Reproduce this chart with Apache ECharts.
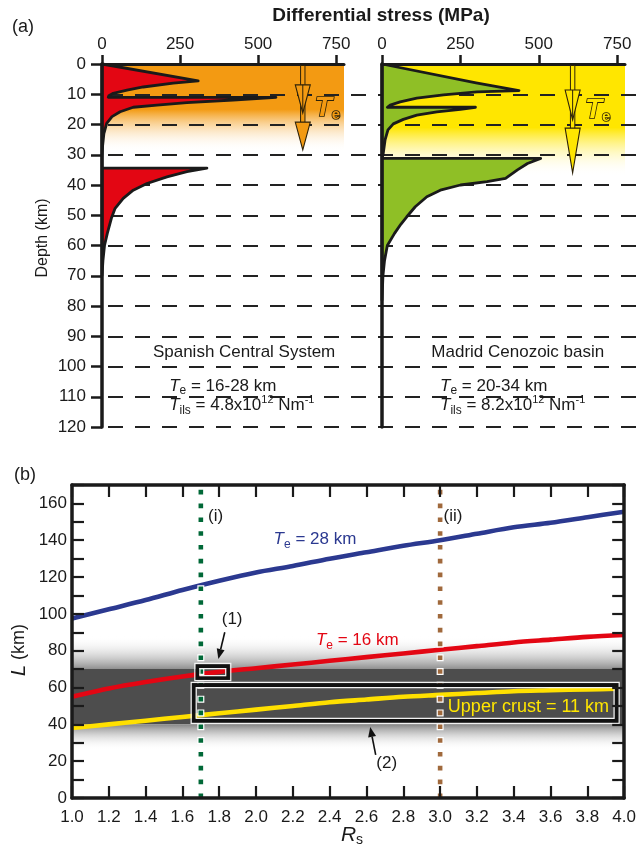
<!DOCTYPE html>
<html><head><meta charset="utf-8">
<script src="https://cdn.jsdelivr.net/npm/echarts@6/dist/echarts.min.js"></script>
<style>html,body{margin:0;padding:0;background:#fff}#c{width:639px;height:854px}</style>
</head><body><div id="c"></div><script>
// ---------- DATA ----------
const stressTicks = [0, 250, 500, 750];
// strength envelope outlines [stress MPa, depth km]
const scsProfile = [[0,0],[308,5.6],[228,6.3],[132,7.6],[80,8.6],[36,9.7],[22,10.5],[20,11],[557,11],[420,11.9],[272,12.8],[176,13.6],[100,14.3],[58,15.8],[32,17.4],[15,19.6],[6,23],[2,27],[0,31],[0,34.4],[336,34.4],[272,35.6],[208,37.3],[144,39.5],[100,41.7],[68,44.4],[42,47.7],[30,51],[17,56],[8,60],[3,65],[0,70]];
const mcbProfile = [[0,0],[300,6.2],[437,8.8],[303,9.2],[196,10.2],[111,11.3],[58,12.5],[26,13.6],[17,14.3],[298,14.3],[250,15],[175,15.8],[111,16.9],[68,18.3],[36,19.8],[19,21.8],[10,25],[4,29.5],[0,31.2],[506,31.2],[464,32.9],[432,35],[394,37.8],[335,38.9],[250,40],[186,41.7],[143,43.9],[106,47.2],[79,50.5],[60,53],[40,56],[17,60],[8,65],[3,70],[0,78]];
// Te arrows: [stress, head1 top, tip1, head2 top, tip2]
const teArrowSCS = [643, 6.9, 16.2, 19.2, 28.4];
const teArrowMCB = [608, 8.6, 18.5, 21.2, 36];
// coloured backgrounds: [stress max, solid until depth, fade end depth]
const orangeBg = [775, 15, 29];
const yellowBg = [775, 21, 37];

// panel (b)
const rsValues = [1.0,1.2,1.4,1.6,1.8,2.0,2.2,2.4,2.6,2.8,3.0,3.2,3.4,3.6,3.8,4.0];
const lTe28 = [97.5,102.5,107.5,113,118,122.5,126,130,133.5,137,140,143.5,147,149.5,152.5,155.5];
const lTe16 = [55,59.5,63,66,68.5,70.5,72.5,74.5,76.5,78.5,80.5,82.5,84.5,86,87.5,88.5];
const rsUpper = [1.0,1.2,1.4,1.6,1.8,2.0,2.2,2.4,2.6,2.8,3.0,3.2,3.4,3.6,3.8,3.96];
const lUpper = [38,40,42,44,46,48,50,52,53.5,55,56,57,58,58.5,59,59.3];
const rsMarkers = [1.7, 3.0];
const box1 = [1.67, 1.86, 64, 72.8];
const box2 = [1.65, 3.97, 40.8, 62.5];
const grayCore = [40, 70];
const grayFade = [26, 88];
const arrow1 = [1.83, 90, 1.795, 75.5];
const arrow2 = [2.65, 23.4, 2.62, 38.6];

// ---------- STYLE HELPERS ----------
const FF = "'Liberation Sans', Arial, Helvetica, sans-serif";
const INK = '#1a1a1a';
function richSet(size) {
  return {
    n: {fontSize: size, fontFamily: FF, lineHeight: size + 5},
    i: {fontSize: size, fontFamily: FF, fontStyle: 'italic', lineHeight: size + 5},
    s: {fontSize: Math.round(size * 0.72), fontFamily: FF, verticalAlign: 'bottom', lineHeight: Math.round(size * 0.72) + 2},
    p: {fontSize: Math.round(size * 0.62), fontFamily: FF, verticalAlign: 'top', lineHeight: Math.round(size * 0.62)}
  };
}
function textItem(pt, text, opts) {
  const size = opts.size || 17;
  return {type: 'text', x: pt[0], y: pt[1], style: Object.assign({
    text: text, rich: richSet(size), fill: opts.color || INK, fontSize: size, fontFamily: FF,
    align: opts.align || 'center', verticalAlign: 'middle'
  }, opts.extra || {})};
}
function labelsSeries(xi, yi, items, z) {
  return {type: 'custom', xAxisIndex: xi, yAxisIndex: yi, z: z || 8, silent: true, clip: false,
    data: [[0, 0]],
    renderItem: function (params, api) {
      return {type: 'group', children: items.map(function (it) {
        return textItem(api.coord([it[0], it[1]]), it[2], it[3] || {});
      })};
    }};
}
function polySeries(xi, yi, points, fill) {
  return {type: 'custom', xAxisIndex: xi, yAxisIndex: yi, z: 3, silent: true, clip: false,
    data: [[0, 0]],
    renderItem: function (params, api) {
      return {type: 'polygon', shape: {points: points.map(function (p) { return api.coord(p); })},
        style: {fill: fill, stroke: INK, lineWidth: 2.8, lineJoin: 'round'}};
    }};
}
function bgSeries(xi, yi, bg, color) {
  return {type: 'custom', xAxisIndex: xi, yAxisIndex: yi, z: 0, silent: true, clip: false,
    data: [[0, 0]],
    renderItem: function (params, api) {
      const a = api.coord([0, 0]), b = api.coord([bg[0], bg[2]]);
      const solid = bg[1] / bg[2];
      return {type: 'rect', shape: {x: a[0], y: a[1], width: b[0] - a[0], height: b[1] - a[1]},
        style: {fill: new echarts.graphic.LinearGradient(0, 0, 0, 1, [
          {offset: 0, color: color}, {offset: solid, color: color},
          {offset: 1, color: 'rgba(255,255,255,0)'}])}};
    }};
}
function teSeries(xi, yi, arr, fill) {
  return {type: 'custom', xAxisIndex: xi, yAxisIndex: yi, z: 6, silent: true, clip: false,
    data: [[0, 0]],
    renderItem: function (params, api) {
      const p0 = api.coord([arr[0], 0]);
      const a1 = api.coord([arr[0], arr[1]]), b1 = api.coord([arr[0], arr[2]]);
      const a2 = api.coord([arr[0], arr[3]]), b2 = api.coord([arr[0], arr[4]]);
      const cx = p0[0], hw = 7.5, sw = 2.2, st = '#2e2208';
      return {type: 'group', children: [
        {type: 'rect', shape: {x: cx - sw, y: p0[1] + 1.5, width: 2 * sw, height: a2[1] - p0[1]}, style: {fill: fill, stroke: st, lineWidth: 1}},
        {type: 'polygon', shape: {points: [[cx - hw, a1[1]], [cx + hw, a1[1]], [cx, b1[1]]]}, style: {fill: fill, stroke: st, lineWidth: 1.1}},
        {type: 'line', shape: {x1: cx, y1: a1[1], x2: cx, y2: b1[1] - 2}, style: {stroke: st, lineWidth: 1}},
        {type: 'polygon', shape: {points: [[cx - hw, a2[1]], [cx + hw, a2[1]], [cx, b2[1]]]}, style: {fill: fill, stroke: st, lineWidth: 1.1}}
      ]};
    }};
}
function teLabel(xi, yi, pos, fill) {
  return {type: 'custom', xAxisIndex: xi, yAxisIndex: yi, z: 7, silent: true, clip: false,
    data: [[0, 0]],
    renderItem: function (params, api) {
      const p = api.coord(pos);
      return {type: 'text', x: p[0], y: p[1], style: {
        text: '{T|T}{e|e}', fill: fill, stroke: '#2e2208', lineWidth: 1.6,
        fontSize: 26, fontFamily: FF, align: 'center', verticalAlign: 'middle',
        rich: {T: {fontSize: 28, fontFamily: FF, fontStyle: 'italic', fontWeight: 'bold', lineHeight: 28},
               e: {fontSize: 15, fontFamily: FF, fontWeight: 'bold', verticalAlign: 'bottom', lineHeight: 15}}
      }};
    }};
}

// stress axes
function stressX(gi) {
  return {gridIndex: gi, type: 'value', position: 'top', min: 0, max: 775, z: 5,
    axisLine: {show: true, onZero: false, lineStyle: {color: INK, width: 3}},
    axisTick: {show: true, inside: false, length: 9, customValues: stressTicks, lineStyle: {color: INK, width: 2.5}},
    axisLabel: {show: true, customValues: stressTicks, margin: 11, fontSize: 17, fontFamily: FF, color: INK,
      formatter: function (v) { return stressTicks.indexOf(v) >= 0 ? String(v) : ''; }},
    splitLine: {show: false}};
}
function depthY(gi, labels) {
  return {gridIndex: gi, type: 'value', inverse: true, min: 0, max: 120, interval: 10, z: 5,
    axisLine: {show: true, onZero: false, lineStyle: {color: INK, width: 3.5}},
    axisTick: {show: labels, inside: false, length: 11, lineStyle: {color: INK, width: 2.5}},
    axisLabel: {show: labels, margin: 16, fontSize: 17, fontFamily: FF, color: INK},
    splitLine: {show: false}};
}

const chart = echarts.init(document.getElementById('c'), null, {renderer: 'canvas'});

const lineData = (xs, ys) => xs.map((x, i) => [x, ys[i]]);
const frameLine = {show: true, onZero: false, lineStyle: {color: INK, width: 3.5}};
const frameTick = {show: true, inside: true, length: 12, lineStyle: {color: INK, width: 2.2}};

function boxSeries(box) {
  return {type: 'custom', xAxisIndex: 3, yAxisIndex: 3, z: 7, silent: true, clip: false,
    data: [[0, 0]],
    renderItem: function (params, api) {
      const a = api.coord([box[0], box[3]]), b = api.coord([box[1], box[2]]);
      const x = a[0], y = a[1], w = b[0] - a[0], h = b[1] - a[1];
      return {type: 'group', children: [
        {type: 'rect', shape: {x: x - 0.5, y: y - 0.5, width: w + 1, height: h + 1}, style: {fill: null, stroke: '#f2f2f2', lineWidth: 1.2}},
        {type: 'rect', shape: {x: x + 2.2, y: y + 2.2, width: w - 4.4, height: h - 4.4}, style: {fill: null, stroke: '#111', lineWidth: 3.6}},
        {type: 'rect', shape: {x: x + 4.6, y: y + 4.6, width: w - 9.2, height: h - 9.2}, style: {fill: null, stroke: '#f2f2f2', lineWidth: 1.2}}
      ]};
    }};
}
function arrowSeries(arr) {
  return {type: 'custom', xAxisIndex: 3, yAxisIndex: 3, z: 8, silent: true, clip: false,
    data: [[0, 0]],
    renderItem: function (params, api) {
      const p0 = api.coord([arr[0], arr[1]]), p1 = api.coord([arr[2], arr[3]]);
      const dx = p1[0] - p0[0], dy = p1[1] - p0[1], len = Math.sqrt(dx * dx + dy * dy);
      const ux = dx / len, uy = dy / len, hl = 10, hw = 4;
      const bx = p1[0] - ux * hl, by = p1[1] - uy * hl;
      return {type: 'group', children: [
        {type: 'line', shape: {x1: p0[0], y1: p0[1], x2: bx, y2: by}, style: {stroke: '#111', lineWidth: 1.6}},
        {type: 'polygon', shape: {points: [[p1[0], p1[1]], [bx - uy * hw, by + ux * hw], [bx + uy * hw, by - ux * hw]]}, style: {fill: '#111'}}
      ]};
    }};
}
const bandSeries = {type: 'custom', xAxisIndex: 3, yAxisIndex: 3, z: 1, silent: true, clip: false,
  data: [[0, 0]],
  renderItem: function (params, api) {
    const xl = api.coord([1, 0])[0], xr = api.coord([4, 0])[0];
    const yTop = api.coord([1, grayFade[1]])[1], yC1 = api.coord([1, grayCore[1]])[1];
    const yC0 = api.coord([1, grayCore[0]])[1], yBot = api.coord([1, grayFade[0]])[1];
    return {type: 'group', children: [
      {type: 'rect', shape: {x: xl, y: yTop, width: xr - xl, height: yC1 - yTop},
        style: {fill: new echarts.graphic.LinearGradient(0, 0, 0, 1, [{offset: 0, color: 'rgba(255,255,255,0)'}, {offset: 1, color: '#8f8f8f'}])}},
      {type: 'rect', shape: {x: xl, y: yC1, width: xr - xl, height: yC0 - yC1}, style: {fill: '#4d4d4d'}},
      {type: 'rect', shape: {x: xl, y: yC0, width: xr - xl, height: yBot - yC0},
        style: {fill: new echarts.graphic.LinearGradient(0, 0, 0, 1, [{offset: 0, color: '#858585'}, {offset: 1, color: 'rgba(255,255,255,0)'}])}}
    ]};
  }};

function markerSeries(x, color, white) {
  return {type: 'line', xAxisIndex: 3, yAxisIndex: 3, z: white ? 4 : 5, silent: true, symbol: 'none',
    data: [[x, 0], [x, 170]],
    lineStyle: white ? {color: '#fff', width: 7, type: [7, 6.8], dashOffset: 1.25, cap: 'butt'}
                     : {color: color, width: 4.6, type: [4.6, 9.2], cap: 'butt'}};
}
const curve = (xs, ys, color) => ({type: 'line', xAxisIndex: 3, yAxisIndex: 3, z: 3, silent: true,
  symbol: 'none', smooth: 0.3, data: lineData(xs, ys), lineStyle: {color: color, width: 4.6}});

const TI = '{i|T}{s|e}';
const option = {
  animation: false,
  backgroundColor: '#fff',
  grid: [
    {left: 102, top: 64, width: 242, height: 363},
    {left: 382, top: 64, width: 243, height: 363},
    {left: 108, top: 64, width: 528, height: 363},
    {left: 72, top: 485, width: 555, height: 313}
  ],
  xAxis: [
    stressX(0), stressX(1),
    {gridIndex: 2, type: 'value', min: 0, max: 1, show: false},
    {gridIndex: 3, type: 'value', min: 1, max: 4, interval: 0.2, position: 'bottom', z: 10,
      axisLine: frameLine, axisTick: frameTick,
      axisLabel: {margin: 11, fontSize: 17, fontFamily: FF, color: INK, formatter: v => v.toFixed(1)},
      splitLine: {show: false}},
    {gridIndex: 3, type: 'value', min: 1, max: 4, interval: 0.2, position: 'top', z: 10,
      axisLine: frameLine, axisTick: frameTick, axisLabel: {show: false}, splitLine: {show: false}}
  ],
  yAxis: [
    depthY(0, true), depthY(1, false),
    {gridIndex: 2, type: 'value', inverse: true, min: 0, max: 120, interval: 10, z: 1,
      axisLine: {show: false}, axisTick: {show: false}, axisLabel: {show: false},
      splitLine: {show: true, showMinLine: false, showMaxLine: true, lineStyle: {color: '#222', width: 2, type: [15, 12]}}},
    {gridIndex: 3, type: 'value', min: 0, max: 170, interval: 10, position: 'left', z: 10,
      axisLine: frameLine, axisTick: frameTick,
      axisLabel: {margin: 5, fontSize: 17, fontFamily: FF, color: INK, formatter: v => (v % 20 === 0 && v < 170) ? String(v) : ''},
      splitLine: {show: false}},
    {gridIndex: 3, type: 'value', min: 0, max: 170, interval: 10, position: 'right', z: 10,
      axisLine: frameLine, axisTick: frameTick, axisLabel: {show: false}, splitLine: {show: false}}
  ],
  series: [
    bgSeries(0, 0, orangeBg, '#f39a12'),
    bgSeries(1, 1, yellowBg, '#ffe600'),
    polySeries(0, 0, scsProfile, '#e30613'),
    polySeries(1, 1, mcbProfile, '#8fbf26'),
    teSeries(0, 0, teArrowSCS, '#f39a12'),
    teSeries(1, 1, teArrowMCB, '#ffe600'),
    teLabel(0, 0, [722, 14.6], '#f39a12'),
    teLabel(1, 1, [688, 15.2], '#ffe600'),
    labelsSeries(0, 0, [
      [455, 95.2, '{n|Spanish Central System}'],
      [215, 106.5, TI + '{n| = 16-28 km}', {align: 'left'}],
      [215, 112.8, '{i|T}{s|ils}{n| = 4.8x10}{p|12}{n| Nm}{p|-1}', {align: 'left'}]
    ]),
    labelsSeries(1, 1, [
      [433, 95.2, '{n|Madrid Cenozoic basin}'],
      [185, 106.5, TI + '{n| = 20-34 km}', {align: 'left'}],
      [185, 112.8, '{i|T}{s|ils}{n| = 8.2x10}{p|12}{n| Nm}{p|-1}', {align: 'left'}]
    ]),
    bandSeries,
    curve(rsValues, lTe28, '#2b3990'),
    curve(rsValues, lTe16, '#e30613'),
    curve(rsUpper, lUpper, '#ffe000'),
    markerSeries(rsMarkers[0], '#006837', true),
    markerSeries(rsMarkers[0], '#006837', false),
    markerSeries(rsMarkers[1], '#a0693c', true),
    markerSeries(rsMarkers[1], '#a0693c', false),
    boxSeries(box1),
    boxSeries(box2),
    arrowSeries(arrow1),
    arrowSeries(arrow2),
    labelsSeries(3, 3, [
      [2.32, 140.5, TI + '{n| = 28 km}', {color: '#2b3990'}],
      [2.55, 85.5, TI + '{n| = 16 km}', {color: '#e30613'}],
      [1.78, 153, '{n|(i)}'],
      [3.07, 153, '{n|(ii)}'],
      [1.87, 97, '{n|(1)}'],
      [2.71, 19, '{n|(2)}'],
      [3.48, 49.5, '{n|Upper crust = 11 km}', {color: '#ffe600', size: 18}]
    ])
  ],
  graphic: [
    {type: 'text', left: 12, top: 18, style: {text: '(a)', fontSize: 18, fontFamily: FF, fill: INK}},
    {type: 'text', left: 14, top: 466, style: {text: '(b)', fontSize: 18, fontFamily: FF, fill: INK}},
    {type: 'text', x: 381, y: 16, style: {text: 'Differential stress (MPa)', fontSize: 19, fontWeight: 'bold', fontFamily: FF, fill: INK, align: 'center', verticalAlign: 'middle'}},
    {type: 'text', x: 43, y: 238, rotation: Math.PI / 2, style: {text: 'Depth (km)', fontSize: 16, fontFamily: FF, fill: INK, align: 'center', verticalAlign: 'middle'}},
    {type: 'text', x: 19, y: 650, rotation: Math.PI / 2, style: {text: '{i|L}{n| (km)}', fill: INK, align: 'center', verticalAlign: 'middle',
      rich: {i: {fontSize: 20, fontFamily: FF, fontStyle: 'italic'}, n: {fontSize: 18, fontFamily: FF}}}},
    {type: 'text', x: 352, y: 835, style: {text: '{i|R}{s|s}', fill: INK, align: 'center', verticalAlign: 'middle',
      rich: {i: {fontSize: 21, fontFamily: FF, fontStyle: 'italic', lineHeight: 24}, s: {fontSize: 14, fontFamily: FF, verticalAlign: 'bottom', lineHeight: 14}}}}
  ]
};
chart.setOption(option);
</script></body></html>
